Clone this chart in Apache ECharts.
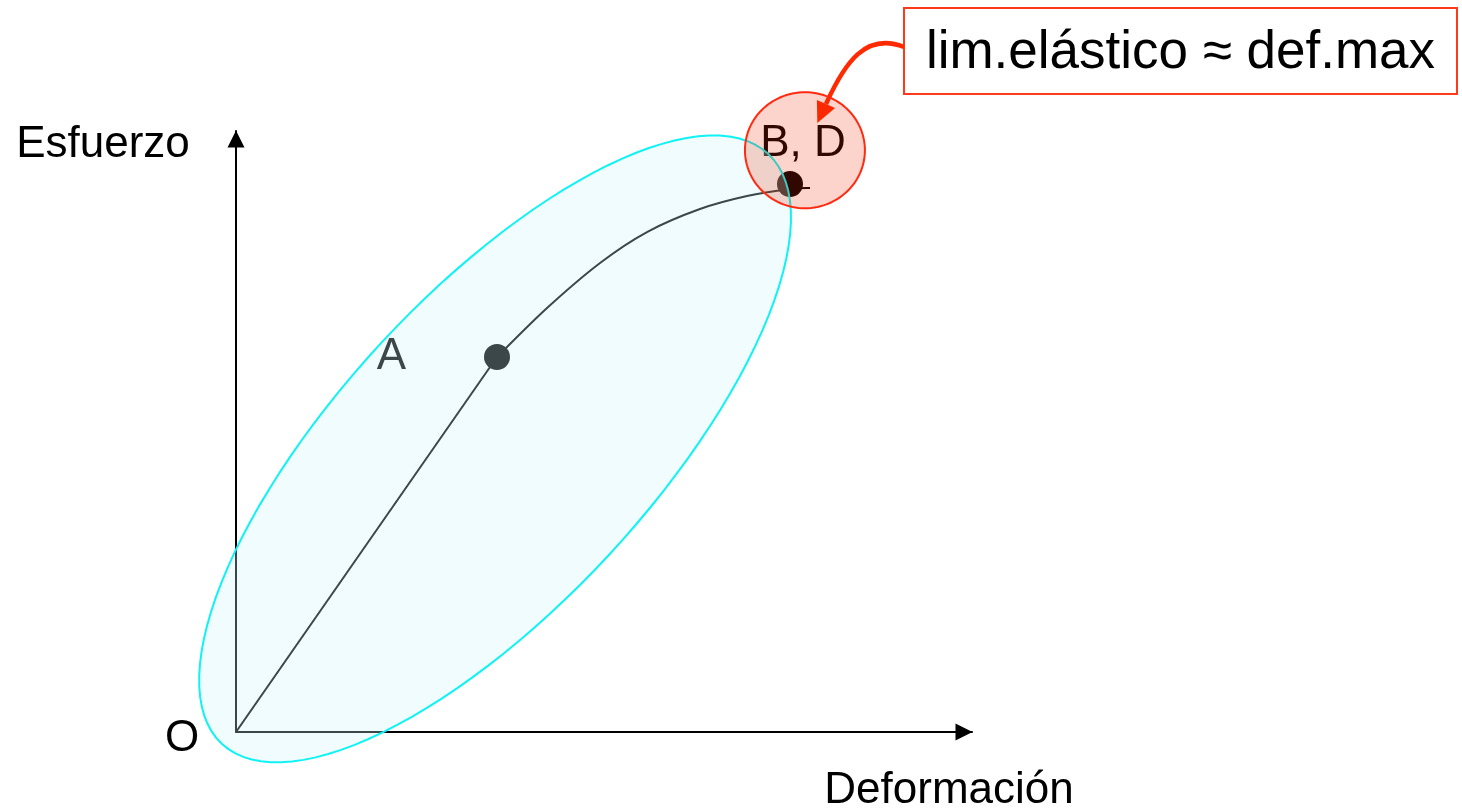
<!DOCTYPE html>
<html><head><meta charset="utf-8">
<script src="https://cdn.jsdelivr.net/npm/echarts@6/dist/echarts.min.js"></script>
<style>html,body{margin:0;padding:0;background:#fff}#c{width:1462px;height:810px}</style>
</head><body><div id="c"></div>
<script>
// ---- data ----
const axisTitles = { x: 'Deformación', y: 'Esfuerzo' };
const axisRange = { xMin: 0, xMax: 100, yMin: 0, yMax: 100 };
const elasticSegment = [[0, 0], [35.46, 62.40]];
const plasticCurve = [[35.46, 62.40], [42.26, 70.55], [49.46, 78.04], [55.84, 83.19], [63.04, 87.02], [69.43, 89.18], [75.27, 90.35], [77.99, 90.52]];
const pointNames = ['O', 'A', 'B, D'];
const pointValues = [[0, 0], [35.46, 62.40], [75.27, 91.18]];
// ellipse: centre x, centre y, semi-axis vector u (x,y), semi-axis vector v (x,y)
const elasticZone = [35.2, 47.1, 37.1, 49.1, -15.5, 17.6];
const yieldZone = [77.3, 96.8, 8.15, 0, 0, 9.65];
const annotationText = 'lim.elástico ≈ def.max';

const FONT = '"Liberation Sans", Arial, sans-serif';

function ellipseItem(params, api) {
  const cx = api.value(0), cy = api.value(1);
  const ux = api.value(2), uy = api.value(3), vx = api.value(4), vy = api.value(5);
  const pts = [];
  const n = 120;
  for (let i = 0; i < n; i++) {
    const t = 2 * Math.PI * i / n;
    pts.push(api.coord([cx + ux * Math.cos(t) + vx * Math.sin(t), cy + uy * Math.cos(t) + vy * Math.sin(t)]));
  }
  return { type: 'polygon', shape: { points: pts }, style: api.style() };
}

// smooth curve through all data points (Catmull-Rom -> cubic Bezier), drawn once
function splineItem(params, api) {
  if (params.dataIndexInside !== 0) return null;
  const n = params.dataInsideLength;
  const P = [];
  for (let i = 0; i < n; i++) P.push(api.coord([api.value(0, i), api.value(1, i)]));
  let d = 'M' + P[0][0] + ' ' + P[0][1];
  for (let i = 0; i < n - 1; i++) {
    const p0 = P[Math.max(i - 1, 0)], p1 = P[i], p2 = P[i + 1], p3 = P[Math.min(i + 2, n - 1)];
    const c1 = [p1[0] + (p2[0] - p0[0]) / 6, p1[1] + (p2[1] - p0[1]) / 6];
    const c2 = [p2[0] - (p3[0] - p1[0]) / 6, p2[1] - (p3[1] - p1[1]) / 6];
    d += ' C' + c1[0] + ' ' + c1[1] + ' ' + c2[0] + ' ' + c2[1] + ' ' + p2[0] + ' ' + p2[1];
  }
  return { type: 'path', shape: { pathData: d }, style: { fill: null, stroke: '#000', lineWidth: 2 } };
}

const chart = echarts.init(document.getElementById('c'), null, { renderer: 'canvas' });

const labelCfg = [
  { position: 'inside', offset: [-54, 7], color: '#000' },
  { position: 'left', distance: 78, color: '#000' },
  { position: 'inside', offset: [13, -40], color: '#000' }
];
const symbolSizes = [0.1, 26, 26];

chart.setOption({
  animation: false,
  backgroundColor: '#fff',
  grid: { left: 236, right: 490, top: 131, bottom: 78 },
  xAxis: {
    type: 'value', min: axisRange.xMin, max: axisRange.xMax,
    axisLine: { show: true, lineStyle: { color: '#000', width: 2 }, symbol: ['none', 'triangle'], symbolSize: [17, 17], symbolOffset: [0, -8] },
    axisTick: { show: false }, axisLabel: { show: false }, splitLine: { show: false }
  },
  yAxis: {
    type: 'value', min: axisRange.yMin, max: axisRange.yMax,
    axisLine: { show: true, lineStyle: { color: '#000', width: 2 }, symbol: ['none', 'triangle'], symbolSize: [17, 17], symbolOffset: [0, -8] },
    axisTick: { show: false }, axisLabel: { show: false }, splitLine: { show: false }
  },
  series: [
    { type: 'line', data: elasticSegment, symbol: 'none', z: 2, lineStyle: { color: '#000', width: 2 }, silent: true },
    { type: 'custom', data: plasticCurve, encode: { x: 0, y: 1 }, renderItem: splineItem, z: 2, silent: true, clip: false },
    {
      type: 'scatter', z: 2, silent: true,
      data: pointNames.map((n, i) => ({
        name: n, value: pointValues[i], symbolSize: symbolSizes[i],
        label: Object.assign({ show: true, formatter: n, fontSize: 44, fontFamily: FONT, opacity: 1 }, labelCfg[i])
      })),
      itemStyle: { color: '#000', opacity: 1 }
    },
    {
      type: 'custom', z: 3, silent: true, clip: false,
      renderItem: ellipseItem,
      encode: { x: 0, y: 1 },
      data: [elasticZone],
      itemStyle: { color: 'rgba(205,245,248,0.29)', borderColor: '#10f2f4', borderWidth: 2 }
    },
    {
      type: 'custom', z: 4, silent: true, clip: false,
      renderItem: ellipseItem,
      encode: { x: 0, y: 1 },
      data: [yieldZone],
      itemStyle: { color: 'rgba(240,40,0,0.2)', borderColor: '#ff2a10', borderWidth: 2 }
    }
  ],
  graphic: [
    { type: 'text', x: 103, y: 145, style: { text: axisTitles.y, font: '44px ' + FONT, fill: '#000', align: 'center', verticalAlign: 'middle' } },
    { type: 'text', x: 949, y: 791, style: { text: axisTitles.x, font: '44px ' + FONT, fill: '#000', align: 'center', verticalAlign: 'middle' } },
    { type: 'rect', shape: { x: 904, y: 8, width: 553, height: 86 }, style: { fill: '#fff', stroke: '#ff3a1a', lineWidth: 2 } },
    { type: 'text', x: 1180.5, y: 53, style: { text: annotationText, font: '53px ' + FONT, fill: '#000', align: 'center', verticalAlign: 'middle' } },
    { type: 'bezierCurve', shape: { x1: 904, y1: 47, cpx1: 866, cpy1: 32, cpx2: 845, cpy2: 62, x2: 826, y2: 104 }, style: { stroke: '#ff2a00', lineWidth: 4.5, fill: null } },
    { type: 'polygon', shape: { points: [[817.3, 123.1], [835.1, 108.1], [816.9, 99.9]] }, style: { fill: '#ff2a00' } }
  ]
});
</script>
</body></html>
